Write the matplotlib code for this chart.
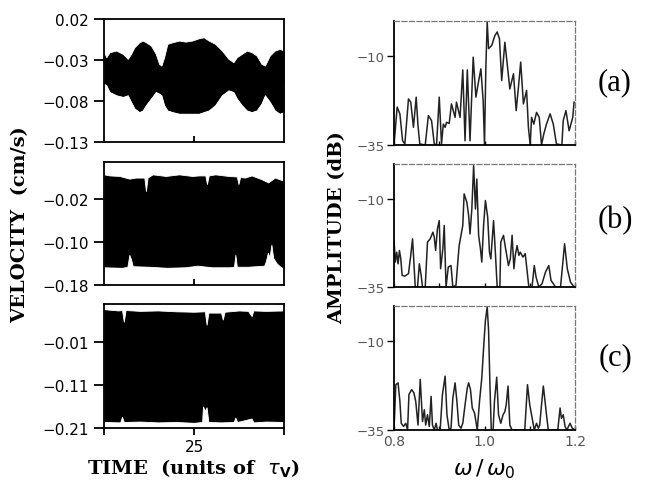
import matplotlib
matplotlib.use('Agg')
import matplotlib.pyplot as plt

# ---- left column: velocity envelopes (cm/s) vs time ----
t1 = [20.0, 20.13, 20.31, 20.68, 21.05, 21.32, 21.5, 21.69, 21.96, 22.15, 22.33, 22.61, 22.88, 23.06,
      23.19, 23.34, 23.52, 23.8, 24.17, 24.53, 24.9, 25.27, 25.54, 25.82, 26.18, 26.55, 26.92, 27.19,
      27.38, 27.65, 27.93, 28.2, 28.48, 28.75, 28.94, 29.21, 29.49, 29.76, 30.0]
hi1 = [-0.0205, -0.0266, -0.0205, -0.0185, -0.0226, -0.0286, -0.0226, -0.0145, -0.0084, -0.0063,
       -0.0084, -0.0124, -0.0226, -0.0347, -0.0368, -0.0266, -0.0104, -0.0084, -0.0063, -0.0076,
       -0.0063, -0.0035, -0.0023, -0.0063, -0.0104, -0.0185, -0.0286, -0.0327, -0.0266, -0.0226,
       -0.0185, -0.0205, -0.0246, -0.0347, -0.0368, -0.0246, -0.0185, -0.0165, -0.0185]
lo1 = [-0.059, -0.061, -0.069, -0.073, -0.075, -0.073, -0.081, -0.089, -0.0935, -0.0915, -0.085,
       -0.077, -0.069, -0.071, -0.073, -0.085, -0.0915, -0.0935, -0.0955, -0.0955, -0.0955, -0.0955,
       -0.0935, -0.0915, -0.085, -0.073, -0.067, -0.069, -0.077, -0.085, -0.0915, -0.0935, -0.0915,
       -0.083, -0.073, -0.081, -0.0915, -0.0955, -0.0935]

t2_hi = [20.0, 20.31, 20.86, 21.41, 21.78, 22.24, 22.33, 22.42, 22.7, 23.43, 24.17, 24.9, 25.27,
         25.63, 25.72, 25.82, 26.18, 26.92, 27.38, 27.47, 27.56, 27.83, 28.2, 28.75, 29.12, 29.49, 30.0]
hi2 = [0.026, 0.024, 0.023, 0.018, 0.020, 0.020, -0.005, 0.020, 0.026, 0.023, 0.026, 0.023, 0.024,
       0.024, 0.008, 0.024, 0.026, 0.023, 0.022, 0.008, 0.021, 0.020, 0.024, 0.017, 0.011, 0.020, 0.014]
t2_lo = [20.0, 21.0, 21.3, 21.41, 21.5, 21.6, 22.5, 23.5, 24.5, 25.2, 26.0, 27.0, 27.22, 27.3, 27.38,
         28.0, 28.9, 29.0, 29.1, 29.2, 29.3, 29.4, 29.6, 29.8, 30.0]
lo2 = [-0.147, -0.148, -0.146, -0.124, -0.132, -0.145, -0.146, -0.148, -0.147, -0.144, -0.147,
       -0.147, -0.146, -0.124, -0.146, -0.146, -0.144, -0.135, -0.120, -0.128, -0.105, -0.130,
       -0.140, -0.146, -0.150]

t3_hi = [20.0, 20.8, 21.0, 21.1, 21.2, 22.0, 23.0, 24.0, 25.0, 25.6, 25.7, 25.8, 26.5, 26.6, 26.7,
         27.5, 28.0, 28.2, 28.3, 29.0, 30.0]
hi3 = [0.066, 0.063, 0.064, 0.037, 0.064, 0.062, 0.063, 0.061, 0.060, 0.061, 0.030, 0.058, 0.058,
       0.042, 0.060, 0.063, 0.062, 0.050, 0.063, 0.062, 0.063]
t3_lo = [20.0, 20.9, 21.0, 21.1, 22.0, 23.0, 24.0, 25.0, 25.45, 25.5, 25.6, 25.7, 25.8, 26.5, 27.2,
         27.3, 27.4, 28.2, 28.3, 29.0, 30.0]
lo3 = [-0.196, -0.197, -0.184, -0.196, -0.195, -0.197, -0.196, -0.198, -0.196, -0.160, -0.170,
       -0.162, -0.196, -0.197, -0.196, -0.186, -0.196, -0.188, -0.197, -0.195, -0.196]

vel_limits = [(-0.13, 0.02), (-0.18, 0.049), (-0.21, 0.078)]
vel_ticks = [[0.02, -0.03, -0.08, -0.13], [-0.02, -0.10, -0.18], [-0.01, -0.11, -0.21]]

# ---- right column: amplitude spectra (dB) vs w/w0 ----
fa = [0.800, 0.807, 0.813, 0.819, 0.824, 0.832, 0.837, 0.843, 0.849, 0.853, 0.857, 0.869, 0.876,
      0.883, 0.889, 0.894, 0.900, 0.905, 0.909, 0.913, 0.916, 0.922, 0.927, 0.935, 0.938, 0.946,
      0.952, 0.957, 0.962, 0.968, 0.975, 0.981, 0.986, 0.992, 0.997, 1.000, 1.003, 1.006, 1.009,
      1.016, 1.023, 1.028, 1.033, 1.038, 1.045, 1.049, 1.056, 1.064, 1.070, 1.075, 1.080, 1.086,
      1.093, 1.097, 1.101, 1.104, 1.109, 1.115, 1.121, 1.126, 1.131, 1.137, 1.145, 1.152, 1.159,
      1.171, 1.174, 1.180, 1.187, 1.195, 1.198]
da = [-35, -24.3, -26.2, -33.8, -34.7, -22.0, -22.9, -30.0, -21.5, -29.5, -34.7, -35, -26.7, -28.1,
      -34.7, -35, -21.5, -34.7, -29.1, -30.0, -28.6, -28.9, -23.4, -27.2, -22.9, -27.2, -13.8,
      -33.8, -13.8, -33.8, -10.2, -21.5, -17.7, -13.5, -22.5, -35, -13.0, -0.3, -7.8, -6.9, -4.1,
      -3.1, -5.0, -16.8, -6.0, -10.7, -19.2, -14.9, -25.3, -18.7, -11.6, -23.4, -19.6, -30.0, -35,
      -27.2, -29.1, -25.8, -27.2, -35, -31.9, -29.1, -26.2, -29.1, -34.7, -35, -28.1, -25.3,
      -31.0, -27.2, -22.9]

fb = [0.800, 0.803, 0.806, 0.809, 0.812, 0.815, 0.818, 0.824, 0.832, 0.837, 0.841, 0.847, 0.852,
      0.856, 0.860, 0.863, 0.869, 0.874, 0.880, 0.886, 0.889, 0.892, 0.896, 0.900, 0.903, 0.908,
      0.911, 0.915, 0.920, 0.926, 0.930, 0.937, 0.941, 0.944, 0.952, 0.955, 0.961, 0.965, 0.968,
      0.972, 0.976, 0.980, 0.983, 0.987, 0.991, 0.994, 0.998, 1.002, 1.007, 1.011, 1.014, 1.020,
      1.024, 1.028, 1.034, 1.036, 1.042, 1.046, 1.053, 1.057, 1.061, 1.065, 1.068, 1.072, 1.076,
      1.079, 1.085, 1.090, 1.098, 1.105, 1.110, 1.114, 1.120, 1.127, 1.135, 1.142, 1.147, 1.157,
      1.168, 1.177, 1.183, 1.190, 1.198]
db = [-21.8, -27.9, -25.1, -28.4, -24.6, -27.0, -31.7, -31.9, -31.2, -26.0, -21.3, -35, -35, -28.4,
      -31.7, -35, -35, -22.2, -21.3, -19.4, -20.8, -24.6, -18.4, -16.1, -29.8, -24.1, -17.5, -35,
      -29.3, -28.9, -35, -34.5, -27.9, -23.2, -17.5, -8.5, -10.9, -14.7, -19.9, -12.8, -0.5, -12.8,
      -4.3, -20.3, -24.1, -27.9, -17.5, -10.4, -15.1, -25.1, -27.0, -16.1, -25.1, -35, -35, -22.2,
      -20.3, -23.6, -28.9, -27.0, -20.3, -29.8, -26.0, -23.2, -26.0, -25.1, -26.5, -25.5, -35, -35,
      -28.9, -32.2, -35, -34.1, -30.7, -28.9, -33.1, -35, -35, -22.7, -29.8, -33.6, -35]

fc = [0.800, 0.804, 0.809, 0.813, 0.816, 0.821, 0.826, 0.830, 0.833, 0.839, 0.844, 0.848, 0.853,
      0.858, 0.863, 0.867, 0.870, 0.874, 0.878, 0.882, 0.885, 0.889, 0.893, 0.896, 0.902, 0.907,
      0.913, 0.917, 0.922, 0.926, 0.930, 0.935, 0.939, 0.943, 0.948, 0.952, 0.957, 0.962, 0.965,
      0.969, 0.973, 0.978, 0.984, 0.989, 0.994, 0.999, 1.002, 1.006, 1.009, 1.012, 1.015, 1.019,
      1.022, 1.027, 1.031, 1.036, 1.041, 1.045, 1.048, 1.052, 1.056, 1.061, 1.089, 1.095, 1.100,
      1.104, 1.110, 1.115, 1.119, 1.122, 1.126, 1.130, 1.133, 1.137, 1.141, 1.162, 1.167, 1.170,
      1.174, 1.178, 1.182, 1.189, 1.194, 1.200]
dc = [-35, -22.2, -21.7, -26.9, -33.1, -34.0, -33.1, -35, -25.0, -23.6, -24.5, -26.9, -33.6, -20.7,
      -32.6, -29.3, -33.6, -30.7, -34.0, -25.5, -33.6, -35, -33.1, -35, -35, -25.0, -19.8, -30.7,
      -35, -34.5, -26.0, -21.7, -26.9, -33.6, -34.5, -33.1, -27.9, -23.1, -21.7, -23.6, -28.8,
      -30.2, -35, -26.9, -20.3, -9.8, -4.1, -0.3, -6.9, -22.2, -35, -35, -26.9, -20.1, -30.7, -33.1,
      -30.7, -29.8, -27.9, -22.6, -33.6, -35, -35, -22.2, -27.9, -30.7, -35, -33.1, -34.5, -33.6,
      -27.9, -22.6, -26.0, -30.7, -35, -35, -28.8, -31.7, -30.7, -34.0, -35, -33.1, -34.5, -35]

panel_tags = ['(a)', '(b)', '(c)']

W, H = 647, 485
fig = plt.figure(figsize=(W / 100, H / 100), dpi=100)


def box(x0, y0, x1, y1):
    return [x0 / W, 1 - y1 / H, (x1 - x0) / W, (y1 - y0) / H]


left_boxes = [box(104, 20, 284, 143), box(104, 163, 284, 286), box(104, 305, 284, 429)]
right_boxes = [box(394, 22, 575, 146), box(394, 165, 575, 288), box(394, 307, 575, 431)]

envelopes = [(t1, hi1, t1, lo1), (t2_hi, hi2, t2_lo, lo2), (t3_hi, hi3, t3_lo, lo3)]
spectra = [(fa, da), (fb, db), (fc, dc)]

for i in range(3):
    # time series: black band between the two envelopes
    ax = fig.add_axes(left_boxes[i])
    th, vh, tl, vl = envelopes[i]
    ax.fill_between(th, vh, vl[0], color='k', lw=0)
    ax.fill_between(tl, vl, max(vh), color='k', lw=0)
    ax.fill_between(th, vh, vel_limits[i][1] + 0.05, color='white', lw=0.6, edgecolor='white')
    ax.fill_between(tl, vl, vel_limits[i][0] - 0.05, color='white', lw=0.6, edgecolor='white')
    ax.set_xlim(20, 30)
    ax.set_ylim(*vel_limits[i])
    ax.set_yticks(vel_ticks[i])
    ax.set_yticklabels([('%.2f' % v).replace('-', '\u2212') for v in vel_ticks[i]])
    for s in ax.spines.values():
        s.set_linewidth(1.3)
    ax.tick_params(axis='y', direction='out', length=7, width=1.3, labelsize=11, pad=4)
    if i < 2:
        ax.set_xticks([25])
        ax.set_xticklabels([])
        ax.tick_params(axis='x', direction='in', length=4, width=1.3)
    else:
        ax.set_xticks([20, 25, 30])
        ax.set_xticklabels(['', '25', ''])
        ax.tick_params(axis='x', direction='out', length=5, width=1.3, labelsize=11, pad=3)

    # spectra
    ax2 = fig.add_axes(right_boxes[i])
    f, d = spectra[i]
    ax2.plot(f, d, color='#222222', lw=1.1)
    ax2.set_xlim(0.8, 1.2)
    ax2.set_ylim(-35, 0)
    ax2.set_yticks([-10, -35])
    ax2.set_yticklabels(['\u221210', '\u221235'], color='#555555')
    ax2.spines['left'].set_linewidth(1.3)
    ax2.spines['bottom'].set_linewidth(1.3)
    for side in ['top', 'right']:
        ax2.spines[side].set_linestyle((0, (4, 2)))
        ax2.spines[side].set_color('#777777')
        ax2.spines[side].set_linewidth(0.9)
    ax2.tick_params(axis='y', direction='out', length=5, width=1.0, labelsize=9.5, pad=2)
    ax2.set_xticks([0.8, 0.9, 1.0, 1.1, 1.2])
    if i < 2:
        ax2.set_xticklabels([])
        ax2.tick_params(axis='x', direction='in', length=3, width=1.0)
    else:
        ax2.set_xticklabels(['0.8', '', '1.0', '', '1.2'], color='#555555')
        ax2.tick_params(axis='x', direction='in', length=3, width=1.0, labelsize=10, pad=3)

    fig.text(615 / W, 1 - [83, 221, 358][i] / H, panel_tags[i], fontsize=22,
             family='Liberation Serif', ha='center', va='center')

fig.text(20 / W, 1 - 225 / H, 'VELOCITY  (cm/s)', rotation=90, fontsize=14,
         family='DejaVu Serif', weight='bold', ha='center', va='center')
fig.text(337 / W, 1 - 228 / H, 'AMPLITUDE (dB)', rotation=90, fontsize=14,
         family='DejaVu Serif', weight='bold', ha='center', va='center')
fig.text(193 / W, 1 - 469 / H, r'TIME  (units of  $\tau_{\mathbf{V}}$)', fontsize=14,
         family='DejaVu Serif', weight='bold', ha='center', va='center')
fig.text(484 / W, 1 - 469 / H, r'$\omega\,/\,\omega_0$', fontsize=16,
         ha='center', va='center')

fig.savefig('out.png', dpi=100)
